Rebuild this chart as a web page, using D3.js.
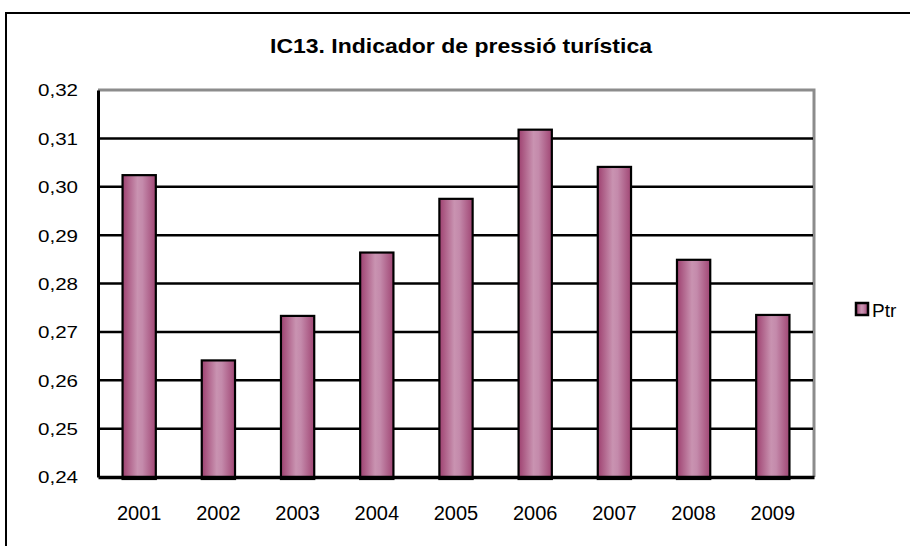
<!DOCTYPE html>
<html>
<head>
<meta charset="utf-8">
<script src="https://cdn.jsdelivr.net/npm/d3@7"></script>
<style>
  body { margin: 0; background: #fff; }
  text { font-family: "Liberation Sans", Arial, sans-serif; fill: #000; }
</style>
</head>
<body>
<svg id="chart" width="910" height="546"></svg>
<script>
// data
var years = ['2001', '2002', '2003', '2004', '2005', '2006', '2007', '2008', '2009'];
var ptr = [0.3024, 0.2641, 0.2733, 0.2864, 0.2975, 0.3118, 0.3041, 0.2849, 0.2735];
var yTicks = [0.24, 0.25, 0.26, 0.27, 0.28, 0.29, 0.30, 0.31, 0.32];
var title = 'IC13. Indicador de pressió turística';
var seriesName = 'Ptr';

var plot = {left: 98, top: 90, right: 814, bottom: 477};

var svg = d3.select('#chart');

// bar gradient, dark edges and light middle
var grad = svg.append('defs').append('linearGradient')
  .attr('id', 'barGrad').attr('x1', '0').attr('x2', '1').attr('y1', '0').attr('y2', '0');
grad.append('stop').attr('offset', '0%').attr('stop-color', '#9e4170');
grad.append('stop').attr('offset', '45%').attr('stop-color', '#c993b1');
grad.append('stop').attr('offset', '60%').attr('stop-color', '#c48aab');
grad.append('stop').attr('offset', '100%').attr('stop-color', '#a04674');

// outer chart frame (runs off the right and bottom edges)
svg.append('path')
  .attr('d', 'M6,560 L6,13 L920,13')
  .attr('fill', 'none').attr('stroke', '#000').attr('stroke-width', 2);

svg.append('text')
  .attr('x', 461).attr('y', 53)
  .attr('text-anchor', 'middle')
  .attr('font-weight', 'bold')
  .attr('font-size', 21)
  .attr('textLength', 382)
  .attr('lengthAdjust', 'spacingAndGlyphs')
  .text(title);

var x = d3.scaleBand().domain(years).range([plot.left, plot.right]).paddingInner(0.58).paddingOuter(0.31);
var y = d3.scaleLinear().domain([0.24, 0.32]).range([plot.bottom, plot.top]);

// plot area top/right in gray
svg.append('path')
  .attr('d', 'M' + plot.left + ',' + plot.top + ' L' + plot.right + ',' + plot.top + ' L' + plot.right + ',' + plot.bottom)
  .attr('fill', 'none').attr('stroke', '#8c8c8c').attr('stroke-width', 3);

// gridlines
svg.append('g').selectAll('line')
  .data(yTicks.filter(function(d) { return d > 0.24 && d < 0.32; })).enter()
  .append('line')
  .attr('x1', plot.left).attr('x2', plot.right - 1)
  .attr('y1', function(d) { return y(d); }).attr('y2', function(d) { return y(d); })
  .attr('stroke', '#000').attr('stroke-width', 2.5);

// bars
svg.append('g').selectAll('rect')
  .data(ptr).enter()
  .append('rect')
  .attr('x', function(d, i) { return x(years[i]); })
  .attr('y', function(d) { return y(d); })
  .attr('width', x.bandwidth())
  .attr('height', function(d) { return plot.bottom + 2 - y(d); })
  .attr('fill', 'url(#barGrad)')
  .attr('stroke', '#000').attr('stroke-width', 2.2);

// axes
var yAxis = d3.axisLeft(y).tickValues(yTicks).tickSize(0).tickPadding(20)
  .tickFormat(function(d) { return d3.format('.2f')(d).replace('.', ','); });
var gy = svg.append('g').attr('transform', 'translate(' + plot.left + ',0)').call(yAxis);
gy.select('.domain').attr('stroke', '#000').attr('stroke-width', 3);
gy.selectAll('text')
  .attr('font-size', 17).attr('font-family', '"Liberation Sans", Arial, sans-serif')
  .attr('dy', '0.35em')
  .attr('textLength', 40).attr('lengthAdjust', 'spacingAndGlyphs');

var xAxis = d3.axisBottom(x).tickSize(0).tickPadding(29);
var gx = svg.append('g').attr('transform', 'translate(0,' + plot.bottom + ')').call(xAxis);
gx.select('.domain').attr('stroke', '#000').attr('stroke-width', 3.5);
gx.selectAll('text').attr('font-size', 20).attr('font-family', '"Liberation Sans", Arial, sans-serif');

// legend
var leg = svg.append('g').attr('transform', 'translate(856,303)');
leg.append('rect').attr('width', 12).attr('height', 12)
  .attr('fill', 'url(#barGrad)').attr('stroke', '#000').attr('stroke-width', 2.5);
leg.append('text').attr('x', 16).attr('y', 14).attr('font-size', 19).text(seriesName);
</script>
</body>
</html>
